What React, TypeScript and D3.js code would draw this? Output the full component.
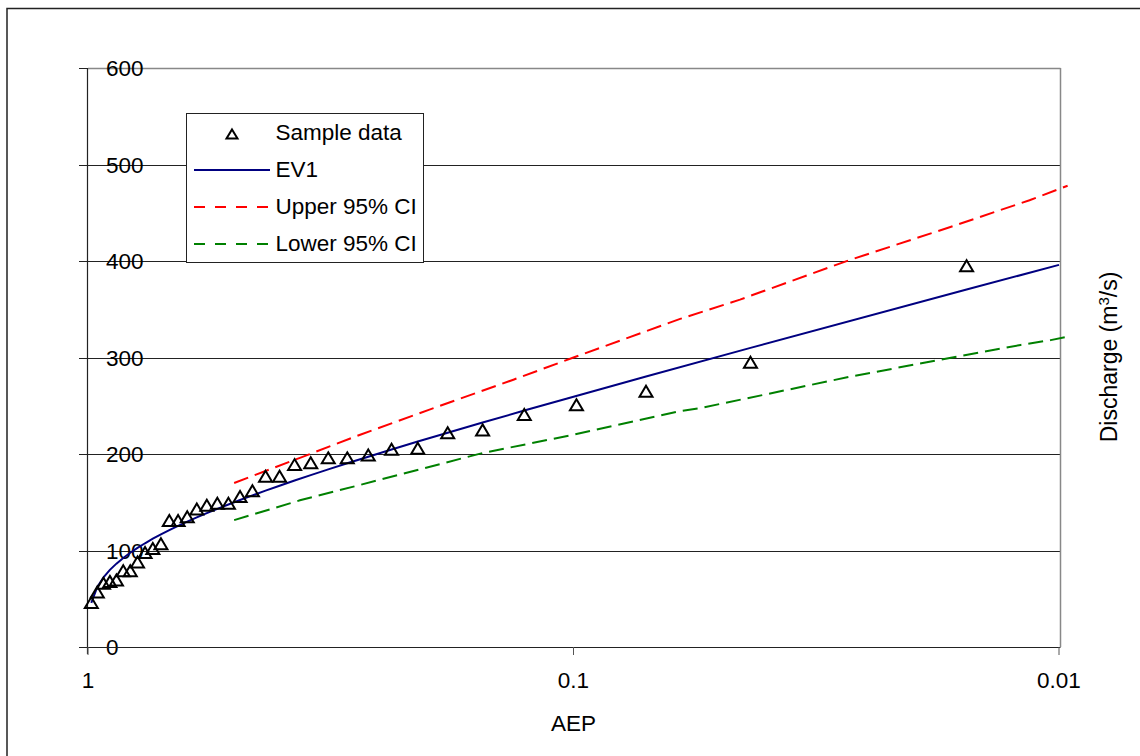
import React from "react";
import * as d3 from "d3";

const sampleAEP = [0.9845, 0.9568, 0.9291, 0.9014, 0.8738, 0.8461, 0.8184, 0.7907, 0.763, 0.7353, 0.7076, 0.68, 0.6523, 0.6246, 0.5969, 0.5692, 0.5415, 0.5138, 0.4862, 0.4585, 0.4308, 0.4031, 0.3754, 0.3477, 0.32, 0.2924, 0.2647, 0.237, 0.2093, 0.1816, 0.1539, 0.1263, 0.0986, 0.0709, 0.0432, 0.0155];
const sampleQ = [46, 57, 66, 68, 69.5, 79, 79, 88, 98, 102, 107, 131, 131, 135, 143, 147, 149, 149, 156, 162, 177, 177, 189, 191, 196, 196, 199, 205, 206, 222, 225, 241, 251, 265, 295, 395];

const ev1AEP = [0.9845, 0.9568, 0.9291, 0.9014, 0.8738, 0.8461, 0.8184, 0.7907, 0.763, 0.7353, 0.7076, 0.68, 0.6523, 0.6246, 0.5969, 0.5692, 0.5415, 0.5138, 0.4862, 0.4585, 0.4308, 0.4031, 0.3754, 0.3477, 0.32, 0.2924, 0.2647, 0.237, 0.2093, 0.1816, 0.1539, 0.1263, 0.1, 0.0709, 0.0432, 0.0155, 0.01];
const ev1Q = [45.8, 62.2, 72.1, 79.9, 86.4, 92.3, 97.7, 102.7, 107.5, 112.2, 116.7, 121.1, 125.5, 129.9, 134.3, 138.7, 143.2, 147.7, 152.3, 157.1, 162.0, 167.1, 172.5, 178.1, 184.1, 190.4, 197.2, 204.7, 212.9, 222.1, 232.6, 245.0, 259.4, 280.3, 310.0, 370.4, 396.0];

const upperAEP = [0.5, 0.366, 0.275, 0.198, 0.133, 0.1, 0.0603, 0.0454, 0.027, 0.0168, 0.0115, 0.0096];
const upperQ = [170, 196, 220, 246, 277, 300, 340, 360, 401, 435, 463, 478];

const lowerAEP = [0.5, 0.366, 0.275, 0.154, 0.1, 0.0603, 0.0549, 0.027, 0.0168, 0.012, 0.0104, 0.0096];
const lowerQ = [131.5, 152, 168, 201, 220, 244.5, 247.5, 280, 299.5, 313, 318, 321.5];

const xTicks = [1, 0.1, 0.01];
const xTickLabels = ["1", "0.1", "0.01"];
const yTicks = [0, 100, 200, 300, 400, 500, 600];

const legendItems = ["Sample data", "EV1", "Upper 95% CI", "Lower 95% CI"];

const FONT = "'Liberation Sans', Arial, sans-serif";

export default function App() {
  const W = 1140, H = 756;
  const left = 88, right = 1059, top = 68, bottom = 647;
  const x = d3.scaleLog().domain([1, 0.01]).range([left, right]);
  const y = d3.scaleLinear().domain([0, 600]).range([bottom, top]);

  const line = d3.line<[number, number]>().x(d => x(d[0])).y(d => y(d[1]));
  const ev1 = line(ev1AEP.map((a, i) => [a, ev1Q[i]]) as [number, number][]) || "";
  const up = line(upperAEP.map((a, i) => [a, upperQ[i]]) as [number, number][]) || "";
  const lo = line(lowerAEP.map((a, i) => [a, lowerQ[i]]) as [number, number][]) || "";

  const tri = (cx: number, cy: number, w: number, h: number) =>
    `M${cx},${cy - h / 2}L${cx + w / 2},${cy + h / 2}L${cx - w / 2},${cy + h / 2}Z`;

  const lg = { x: 186, y: 113, w: 237, h: 149 };
  const rowY = [133, 170, 207, 244];

  return (
    <svg width={W} height={H} style={{ position: "absolute", left: 0, top: 0, background: "#fff" }} fontFamily={FONT}>
      <rect x={0} y={0} width={W} height={H} fill="#fff" />
      <rect x={7} y={8.5} width={W + 20} height={H + 20} fill="none" stroke="#222" strokeWidth={1.5} />
      {yTicks.filter(t => t > 0 && t < 600).map(t => (
        <line key={t} x1={left} x2={right + 1} y1={Math.round(y(t)) + 0.5} y2={Math.round(y(t)) + 0.5} stroke="#222" strokeWidth={1} />
      ))}
      <line x1={left} x2={right + 1.5} y1={y(600) + 0.5} y2={y(600) + 0.5} stroke="#888" strokeWidth={1.5} />
      <line x1={right + 1.5} x2={right + 1.5} y1={y(600)} y2={bottom} stroke="#888" strokeWidth={1.5} />
      <line x1={left - 0.5} x2={left - 0.5} y1={top} y2={bottom + 7} stroke="#222" strokeWidth={1.2} />
      {yTicks.map(t => (
        <line key={"yt" + t} x1={left - 9} x2={left} y1={Math.round(y(t)) + 0.5} y2={Math.round(y(t)) + 0.5} stroke="#222" strokeWidth={1} />
      ))}
      {yTicks.map(t => (
        <text key={"yl" + t} x={106} y={y(t) + 8} fontSize={22.5} fill="#000">{t}</text>
      ))}
      <line x1={left - 9} x2={right + 1.5} y1={bottom + 0.5} y2={bottom + 0.5} stroke="#222" strokeWidth={1.2} />
      {xTicks.map(t => (
        <line key={"xt" + t} x1={x(t)} x2={x(t)} y1={bottom} y2={bottom + 8} stroke="#555" strokeWidth={1} />
      ))}
      {xTicks.map((t, i) => (
        <text key={"xl" + t} x={x(t)} y={688} fontSize={22.5} textAnchor="middle" fill="#000">{xTickLabels[i]}</text>
      ))}
      <text x={x(0.1)} y={731} fontSize={22.5} textAnchor="middle" fill="#000">AEP</text>
      <text transform="translate(1117,357) rotate(-90)" fontSize={23} textAnchor="middle" fill="#000">
        Discharge (m<tspan dy={-8} fontSize={15}>3</tspan><tspan dy={8}>/s)</tspan>
      </text>
      <path d={up} fill="none" stroke="#ff0000" strokeWidth={2} strokeDasharray="15 7" />
      <path d={lo} fill="none" stroke="#008000" strokeWidth={2} strokeDasharray="15 7" />
      <path d={ev1} fill="none" stroke="#000080" strokeWidth={2} />
      {sampleAEP.map((a, i) => (
        <path key={"s" + i} d={tri(x(a), y(sampleQ[i]), 13, 11)} fill="none" stroke="#000" strokeWidth={2} />
      ))}
      <rect x={lg.x + 0.5} y={lg.y + 0.5} width={lg.w} height={lg.h} fill="#fff" stroke="#222" strokeWidth={1} />
      <path d={tri(232, rowY[0] + 1, 11, 9)} fill="none" stroke="#000" strokeWidth={2} />
      <line x1={194} x2={270} y1={rowY[1]} y2={rowY[1]} stroke="#000080" strokeWidth={2} />
      <line x1={194} x2={270} y1={rowY[2]} y2={rowY[2]} stroke="#ff0000" strokeWidth={2} strokeDasharray="11 10" />
      <line x1={194} x2={270} y1={rowY[3]} y2={rowY[3]} stroke="#008000" strokeWidth={2} strokeDasharray="11 10" />
      {legendItems.map((s, i) => (
        <text key={s} x={275.5} y={rowY[i] + 6.5} fontSize={22.5} fill="#000">{s}</text>
      ))}
    </svg>
  );
}
